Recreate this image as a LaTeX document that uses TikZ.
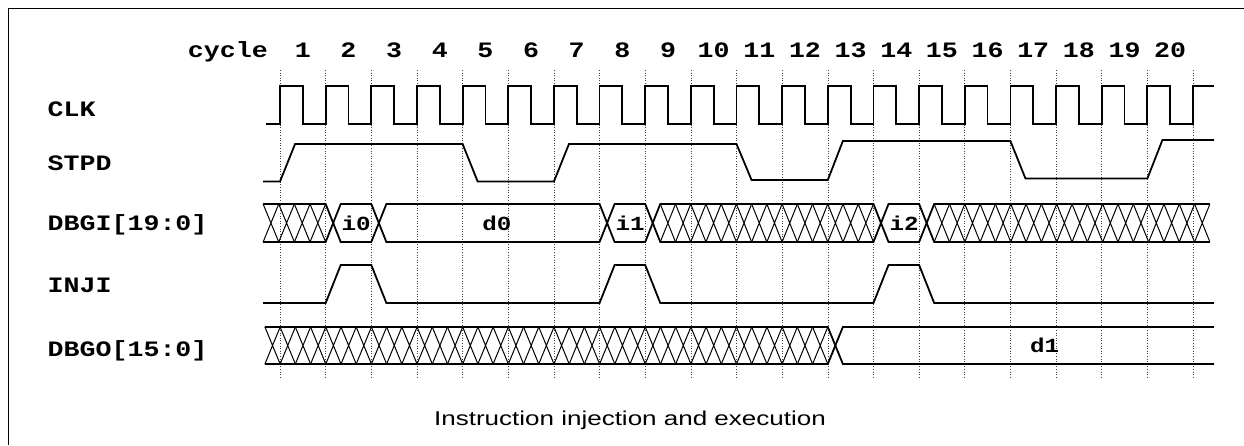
\documentclass[tikz,border=0pt]{standalone}
\usepackage{fontspec}
\newfontfamily\sigfont[FakeStretch=1.21]{Liberation Mono}
\newfontfamily\capfont[FakeStretch=1.3]{Liberation Sans}

% thin X pattern: start, end, cells, top, bottom
\newcommand{\hatchbus}[5]{%
  \foreach \j in {1,...,#3}{
    \pgfmathsetmacro{\xa}{(#1)+((#2)-(#1))*(\j-1)/#3}
    \pgfmathsetmacro{\xb}{(#1)+((#2)-(#1))*\j/#3}
    \draw[hatchline] (\xa,#4) -- (\xb,#5) (\xa,#5) -- (\xb,#4);
  }}

\tikzset{
  sig/.style={line width=1.8pt},
  hatchline/.style={line width=1pt},
  gridline/.style={dotted, line width=0.6pt, black!75},
  siglabel/.style={font=\sigfont\bfseries\fontsize{22}{22}\selectfont, inner sep=0pt},
  buslabel/.style={font=\sigfont\bfseries\fontsize{20}{20}\selectfont, inner sep=0pt},
  caption/.style={font=\capfont\fontsize{20}{20}\selectfont, inner sep=0pt}
}

\begin{document}
\begin{tikzpicture}[x=1pt, y=-1pt]
    \useasboundingbox (0,0) rectangle (1244,445);
    \draw[line width=1pt] (8,445) -- (8,8) -- (1244,8);

    % signal names
    \node[siglabel, anchor=base east] (cyc) at (268,57) {cycle};
    \node[siglabel, anchor=base west] (clk) at (47.5,116.7) {CLK};
    \node[siglabel, anchor=base west] (stpd) at (47.5,170) {STPD};
    \node[siglabel, anchor=base west] (dbgi) at (47.5,230.3) {DBGI[19:0]};
    \node[siglabel, anchor=base west] (inji) at (47.5,292) {INJI};
    \node[siglabel, anchor=base west] (dbgo) at (47.5,356.7) {DBGO[15:0]};

    \begin{scope}[xshift=280pt, x=45.65pt]
        \foreach \k in {0,...,20}
            \draw[gridline] (\k,70) -- (\k,378);
        \foreach \n in {1,...,20}
            \node[siglabel, anchor=base] (c\n) at (\n-0.5,57) {\n};

        % CLK
        \draw[sig] (-0.3,124) \foreach \k in {0,...,19} { -- (\k,124) -- (\k,86) -- (\k+0.5,86) -- (\k+0.5,124) }
            -- (20,124) -- (20,86) -- (20.46,86);

        % STPD
        \draw[sig] (-0.37,181.5) -- (0,181.5) -- (0.33,144) -- (4,144) -- (4.33,181.5) -- (6,181.5) -- (6.33,144)
            -- (10,144) -- (10.33,180) -- (12,180) -- (12.33,141) -- (16,141) -- (16.33,178.5)
            -- (19,178.5) -- (19.33,140) -- (20.46,140);

        % DBGI
        \draw[sig] (-0.37,204) -- (1,204) -- (1.33,242) -- (2,242) -- (2.33,204) -- (7,204) -- (7.33,242)
            -- (8,242) -- (8.33,204) -- (13,204) -- (13.33,242) -- (14,242) -- (14.33,204) -- (20.37,204);
        \draw[sig] (-0.37,242) -- (1,242) -- (1.33,204) -- (2,204) -- (2.33,242) -- (7,242) -- (7.33,204)
            -- (8,204) -- (8.33,242) -- (13,242) -- (13.33,204) -- (14,204) -- (14.33,242) -- (20.37,242);
        \hatchbus{-0.37}{1}{4}{204}{242}
        \hatchbus{8.33}{13}{14}{204}{242}
        \hatchbus{14.33}{20.37}{18}{204}{242}
        \node[buslabel] (i0) at (1.67,223) {i0};
        \node[buslabel] (d0) at (4.75,223) {d0};
        \node[buslabel] (i1) at (7.67,223) {i1};
        \node[buslabel] (i2) at (13.67,223) {i2};

        % INJI
        \draw[sig] (-0.37,303) -- (1,303) -- (1.33,265) -- (2,265) -- (2.33,303) -- (7,303) -- (7.33,265)
            -- (8,265) -- (8.33,303) -- (13,303) -- (13.33,265) -- (14,265) -- (14.33,303) -- (20.46,303);

        % DBGO
        \draw[sig] (-0.33,327) -- (12,327) -- (12.33,364) -- (20.46,364);
        \draw[sig] (-0.33,364) -- (12,364) -- (12.33,327) -- (20.46,327);
        \hatchbus{-0.33}{12}{37}{327}{364}
        \node[buslabel] (d1) at (16.75,345.5) {d1};
    \end{scope}

    \node[caption, anchor=base] (title) at (630,425) {Instruction injection and execution};
\end{tikzpicture}
\end{document}
